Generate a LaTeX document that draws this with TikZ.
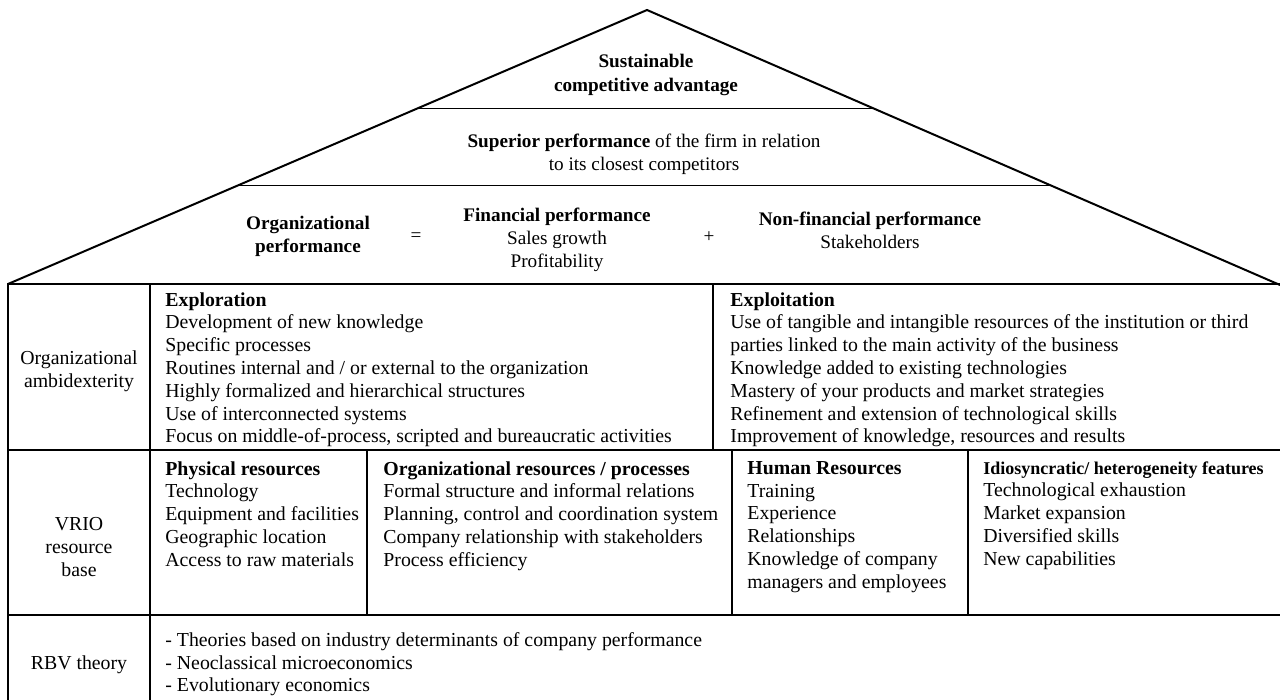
\documentclass[tikz,border=0pt]{standalone}
\usepackage{fontspec}
\setmainfont{Liberation Serif}
\usetikzlibrary{positioning}

\tikzset{
  celltext/.style={anchor=north west, align=left, inner sep=0pt, font=\fontsize{9.9}{11.4}\selectfont},
  rowlabel/.style={align=center, inner sep=0pt, font=\fontsize{9.9}{11.4}\selectfont},
  rooftext/.style={align=center, inner sep=0pt, font=\fontsize{9.6}{11.6}\selectfont},
  frame/.style={line width=1.3pt, black},
  thin/.style={line width=0.5pt, black},
}

\begin{document}
\begin{tikzpicture}[x=0.5pt,y=-0.5pt]
\useasboundingbox (0,0) rectangle (1280,700);
\clip (0,0) rectangle (1280,700);

% roof
\draw [line width=1pt, line join=miter] (8,284) -- (647,10) -- (1280,285);
\draw [thin] (416,109) -- (874,109);
\draw [thin] (236,186) -- (1051,186);

\node [rooftext] (advantage) at (646,75)  {\textbf{Sustainable}\\\textbf{competitive advantage}};
\node [rooftext] (superior)  at (644,154) {\textbf{Superior performance} of the firm in relation\\to its closest competitors};
\node [rooftext] (orgperf)   at (308,236) {\textbf{Organizational}\\\textbf{performance}};
\node [rooftext] (equals)    at (416,237) {=};
\node [rooftext] (finperf)   at (557,240) {\textbf{Financial performance}\\Sales growth\\Profitability};
\node [rooftext] (plus)      at (709,237) {+};
\node [rooftext] (nonfin)    at (870,230) {\textbf{Non-financial performance}\\Stakeholders};

% table frame
\draw [frame] (8,284) rectangle (1284,704);
\draw [frame] (8,450) -- (1284,450);
\draw [frame] (8,615) -- (1284,615);
\draw [frame] (150,284) -- (150,704);
\draw [frame] (713,284) -- (713,450);
\draw [frame] (367,450) -- (367,615);
\draw [frame] (732,450) -- (732,615);
\draw [frame] (968,450) -- (968,615);

% row labels
\node [rowlabel] (ambidex) at (79,371) {Organizational\\ambidexterity};
\node [rowlabel] (vrio)    at (79,547) {VRIO\\resource\\base};
\node [rowlabel] (rbv)     at (79,665) {RBV theory};

% organizational ambidexterity
\node [celltext] (explore) at (165,292) {\textbf{Exploration}\\
  Development of new knowledge\\
  Specific processes\\
  Routines internal and / or external to the organization\\
  Highly formalized and hierarchical structures\\
  Use of interconnected systems\\
  Focus on middle-of-process, scripted and bureaucratic activities};
\node [celltext] (exploit) at (730,292) {\textbf{Exploitation}\\
  Use of tangible and intangible resources of the institution or third\\
  parties linked to the main activity of the business\\
  Knowledge added to existing technologies\\
  Mastery of your products and market strategies\\
  Refinement and extension of technological skills\\
  Improvement of knowledge, resources and results};

% VRIO resource base
\node [celltext] (physical) at (165,461) {\textbf{Physical resources}\\
  Technology\\
  Equipment and facilities\\
  Geographic location\\
  Access to raw materials};
\node [celltext] (orgres) at (383,461) {\textbf{Organizational resources / processes}\\
  Formal structure and informal relations\\
  Planning, control and coordination system\\
  Company relationship with stakeholders\\
  Process efficiency};
\node [celltext] (human) at (747,461) {\textbf{Human Resources}\\
  Training\\
  Experience\\
  Relationships\\
  Knowledge of company\\
  managers and employees};
\node [celltext] (idio) at (983,461) {{\fontsize{9}{11.4}\selectfont\textbf{Idiosyncratic/ heterogeneity features}}\\
  Technological exhaustion\\
  Market expansion\\
  Diversified skills\\
  New capabilities};

% RBV theory
\node [celltext] (theories) at (165,632) {- Theories based on industry determinants of company performance\\
  - Neoclassical microeconomics\\
  - Evolutionary economics};

\end{tikzpicture}
\end{document}
